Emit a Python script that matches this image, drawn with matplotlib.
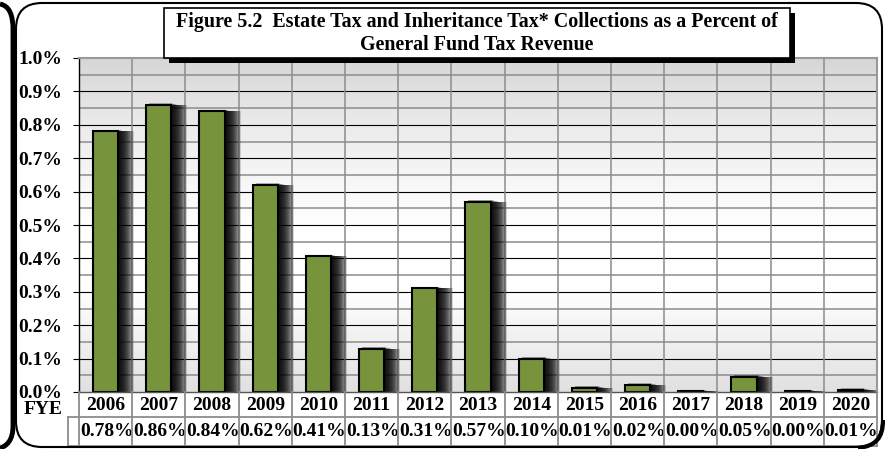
import numpy as np
import matplotlib
matplotlib.use("Agg")
import matplotlib.pyplot as plt
from matplotlib.patches import Rectangle, FancyBboxPatch, PathPatch
from matplotlib.path import Path
from matplotlib.transforms import blended_transform_factory

# ---------------- data ----------------
years = ["2006", "2007", "2008", "2009", "2010", "2011", "2012", "2013",
         "2014", "2015", "2016", "2017", "2018", "2019", "2020"]
values = [0.78, 0.86, 0.84, 0.62, 0.406, 0.13, 0.31, 0.57,
          0.10, 0.013, 0.021, 0.002, 0.046, 0.002, 0.006]
value_labels = [f"{v:.2f}%" for v in values]
yticks = [0.0, 0.1, 0.2, 0.3, 0.4, 0.5, 0.6, 0.7, 0.8, 0.9, 1.0]
ytick_labels = [f"{t:.1f}%" for t in yticks]
title_lines = ["Figure 5.2  Estate Tax and Inheritance Tax* Collections as a Percent of",
               "General Fund Tax Revenue"]
row_label = "FYE"

SERIF = ["Liberation Serif", "DejaVu Serif"]
BAR_COLOR = "#77933C"
GRID_GRAY = "#8c8c8c"
FS = 14

W, H = 885, 449
fig = plt.figure(figsize=(W / 100, H / 100), dpi=100)
fig.patch.set_facecolor("white")

L, R, T, B = 79, 877, 58, 392
ax = fig.add_axes([L / W, 1 - B / H, (R - L) / W, (B - T) / H])
n = len(years)
x = np.arange(n)
ax.set_xlim(-0.5, n - 0.5)
ax.set_ylim(0, 1.0)

# background gradient (top -> bottom)
stops_v = [1.0, 0.78, 0.5, 0.3, 0.12, 0.0]
stops_g = [0.84, 0.93, 1.0, 1.0, 0.93, 0.88]
yy = np.linspace(1.0, 0.0, 300)
g = np.interp(yy, stops_v[::-1], stops_g[::-1])
img = np.dstack([g, g, g]).reshape(300, 1, 3)
ax.imshow(img, extent=(-0.5, n - 0.5, 0, 1.0), aspect="auto", zorder=0,
          interpolation="bilinear")

# grid
for k in range(1, 20, 2):
    ax.axhline(k * 0.05, color=GRID_GRAY, lw=1.1, zorder=1)
for k in range(1, 10):
    ax.axhline(k * 0.1, color="black", lw=0.8, zorder=1)
for k in range(n - 1):
    ax.axvline(k + 0.5, color=GRID_GRAY, lw=1.1, zorder=1)

# bar shadows (soft, to the right)
pxx = 1 / ((R - L) / n)
pxy = 1.0 / (B - T)
w = 0.47
N = 16
for i, v in enumerate(values):
    for s in range(1, N + 1):
        top = v + max(0.0, 2.0 - 0.25 * s) * pxy
        ax.add_patch(Rectangle((i - w / 2 + 3 * pxx, 0), w + s * pxx - 3 * pxx,
                               top, facecolor="black", edgecolor="none",
                               alpha=0.15, zorder=2))

ax.bar(x, values, width=w, color=BAR_COLOR, edgecolor="black", linewidth=1.5,
       zorder=4)

# spines
for side in ["top", "right"]:
    ax.spines[side].set_color("#999999")
    ax.spines[side].set_linewidth(1.5)
ax.spines["left"].set_color("black")
ax.spines["left"].set_linewidth(1.0)
ax.spines["bottom"].set_color("#555555")
ax.spines["bottom"].set_linewidth(1.0)
for sp in ax.spines.values():
    sp.set_zorder(5)

ax.set_yticks(yticks)
ax.set_yticklabels(ytick_labels, fontfamily=SERIF, fontweight="bold", fontsize=FS)
ax.tick_params(axis="y", direction="out", length=4.5, width=0.8, color="black", pad=7.5)
ax.set_xticks([])

# table below
trans = blended_transform_factory(ax.transData, ax.transAxes)
ax_h = B - T
y0 = 0.0
y1 = -(417 - B) / ax_h
y2 = -(445.5 - B) / ax_h
left_cell = -0.5 - (L - 68) * pxx
tl = dict(color=GRID_GRAY, lw=1.3, transform=trans, clip_on=False, zorder=6)
ax.plot([left_cell, n - 0.5], [y1, y1], **tl)
ax.plot([left_cell, n - 0.5], [y2, y2], **tl)
ax.plot([left_cell, left_cell], [y1, y2], **tl)
for k in range(n + 1):
    ax.plot([k - 0.5, k - 0.5], [y0, y2], **tl)
for i in range(n):
    ax.text(i, (y0 + y1) / 2 - 1.5 / ax_h, years[i], transform=trans, ha="center",
            va="center", fontfamily=SERIF, fontweight="bold", fontsize=FS)
    ax.text(i + 0.02, (y1 + y2) / 2, value_labels[i], transform=trans, ha="center",
            va="center", fontfamily=SERIF, fontweight="bold", fontsize=FS)
ax.text((43.5 - L) / (R - L), -(410 - B) / ax_h, row_label, transform=ax.transAxes,
        ha="center", va="center", fontfamily=SERIF, fontweight="bold", fontsize=FS)

# overlay for frame and title box
ov = fig.add_axes([0, 0, 1, 1], zorder=10)
ov.set_xlim(0, W)
ov.set_ylim(H, 0)
ov.axis("off")
ov.patch.set_alpha(0)

# title box
bx, by, bw, bh = 164, 8, 626, 50
ov.add_patch(Rectangle((bx + 5, by + 5), bw, bh, facecolor="black", edgecolor="none"))
ov.add_patch(Rectangle((bx, by), bw, bh, facecolor="white", edgecolor="black", lw=1.2))
ov.text(bx + bw / 2, 22.5, title_lines[0], ha="center", va="center",
        fontfamily=SERIF, fontweight="bold", fontsize=14.4)
ov.text(bx + bw / 2, 45.5, title_lines[1], ha="center", va="center",
        fontfamily=SERIF, fontweight="bold", fontsize=14.4)

# frame
ov.add_patch(FancyBboxPatch((16, 3), 866, 444,
                            boxstyle="round,pad=0,rounding_size=26",
                            facecolor="none", edgecolor="black", lw=1.5))
thick = Path([(0, 4), (10, 6), (13, 16), (13, 30), (13, 426), (13, 440), (7, 446), (0, 448)],
             [Path.MOVETO, Path.CURVE4, Path.CURVE4, Path.CURVE4, Path.LINETO,
              Path.CURVE4, Path.CURVE4, Path.CURVE4])
ov.add_patch(PathPatch(thick, facecolor="none", edgecolor="black", lw=3.5))
corner = Path([(883, 420), (883, 438), (876, 446), (858, 448)],
              [Path.MOVETO, Path.CURVE4, Path.CURVE4, Path.CURVE4])
ov.add_patch(PathPatch(corner, facecolor="none", edgecolor="black", lw=3.0))

fig.savefig("out.png", dpi=100)
